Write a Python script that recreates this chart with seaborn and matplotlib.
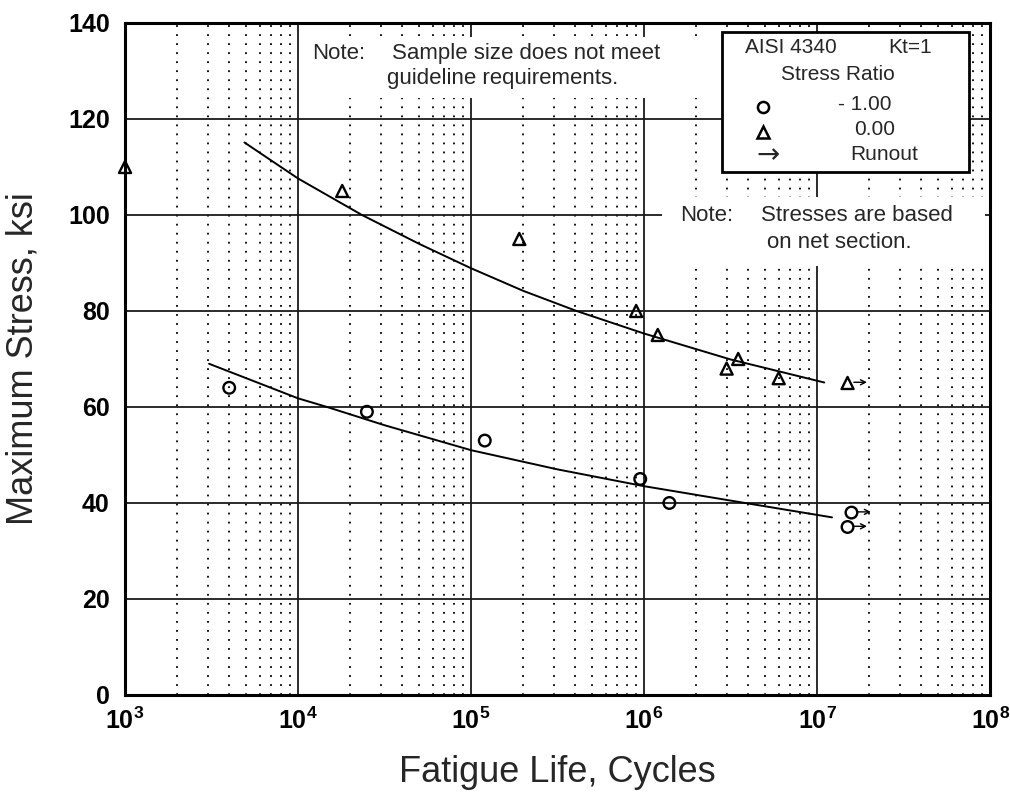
import matplotlib
matplotlib.use("Agg")
import matplotlib.pyplot as plt
from matplotlib.patches import Rectangle
from matplotlib.transforms import offset_copy
import seaborn as sns
import pandas as pd

# data
circle_life = [4.0e3, 2.5e4, 1.2e5, 9.5e5, 1.4e6, 1.58e7, 1.5e7]
circle_stress = [64, 59, 53, 45, 40, 38, 35]
circle_runout = [False, False, False, False, False, True, True]

triangle_life = [1.0e3, 1.8e4, 1.9e5, 9.0e5, 1.2e6, 3.0e6, 3.5e6, 6.0e6, 1.5e7]
triangle_stress = [110, 105, 95, 80, 75, 68, 70, 66, 65]
triangle_runout = [False, False, False, False, False, False, False, False, True]

# best-fit curves
upper_fit_life = [4.9e3, 1.0e4, 2.34e4, 5.0e4, 1.0e5, 2.0e5, 4.07e5, 1.0e6, 3.16e6, 1.1e7]
upper_fit_stress = [115.1, 107.6, 100.0, 94.0, 88.9, 84.2, 80.0, 75.3, 69.9, 65.1]
lower_fit_life = [3.06e3, 1.0e4, 1.47e4, 3.16e4, 1.0e5, 3.16e5, 1.0e6, 3.16e6, 1.22e7]
lower_fit_stress = [69.0, 61.8, 60.0, 56.2, 51.0, 47.0, 43.5, 40.5, 37.0]

x_ticks = [1e3, 1e4, 1e5, 1e6, 1e7, 1e8]
x_tick_labels = [r"$\mathbf{10^{3}}$", r"$\mathbf{10^{4}}$", r"$\mathbf{10^{5}}$",
                 r"$\mathbf{10^{6}}$", r"$\mathbf{10^{7}}$", r"$\mathbf{10^{8}}$"]
y_ticks = [0, 20, 40, 60, 80, 100, 120, 140]

sns.set_style("white")
plt.rcParams["font.family"] = ["Liberation Sans", "DejaVu Sans"]
plt.rcParams["mathtext.fontset"] = "custom"
plt.rcParams["mathtext.rm"] = "Liberation Sans"
plt.rcParams["mathtext.bf"] = "Liberation Sans:bold"

circles = pd.DataFrame({"life": circle_life, "stress": circle_stress, "runout": circle_runout})
triangles = pd.DataFrame({"life": triangle_life, "stress": triangle_stress, "runout": triangle_runout})
upper = pd.DataFrame({"life": upper_fit_life, "stress": upper_fit_stress})
lower = pd.DataFrame({"life": lower_fit_life, "stress": lower_fit_stress})

fig = plt.figure(figsize=(10.1, 7.92), dpi=100)
ax = fig.add_axes([0.1238, 0.1225, 0.8565, 0.8485])
ax.set_xscale("log")
ax.set_xlim(1e3, 1e8)
ax.set_ylim(0, 140)

# grid: solid majors, dotted minor verticals
ax.set_axisbelow(True)
ax.grid(which="major", axis="both", color="#1a1a1a", linewidth=1.3, linestyle="-")
ax.grid(which="minor", axis="x", color="black", linewidth=1.3, linestyle=(0, (1, 4)))
ax.grid(which="minor", axis="y", visible=False)

sns.lineplot(data=upper, x="life", y="stress", ax=ax, color="black", linewidth=1.4,
             sort=False, estimator=None, zorder=3)
sns.lineplot(data=lower, x="life", y="stress", ax=ax, color="black", linewidth=1.4,
             sort=False, estimator=None, zorder=3)

sns.scatterplot(data=circles, x="life", y="stress", ax=ax, marker="o", s=70,
                facecolors="none", edgecolors="black", linewidth=1.7, zorder=4, clip_on=False)
sns.scatterplot(data=triangles, x="life", y="stress", ax=ax, marker="^", s=75,
                facecolors="none", edgecolors="black", linewidth=1.7, zorder=4, clip_on=False)

# runout arrows drawn just right of the marker
tail_tr = offset_copy(ax.transData, fig=fig, x=4.5, y=0.5, units="points")
head_tr = offset_copy(ax.transData, fig=fig, x=14, y=0.5, units="points")
for df in (circles, triangles):
    for n, s in zip(df.loc[df.runout, "life"], df.loc[df.runout, "stress"]):
        ax.annotate("", xy=(n, s), xycoords=head_tr, xytext=(n, s), textcoords=tail_tr,
                    arrowprops=dict(arrowstyle="->", lw=1.0, color="black",
                                    shrinkA=0, shrinkB=0, mutation_scale=9), zorder=5)

for sp in ax.spines.values():
    sp.set_linewidth(2.2)
    sp.set_color("black")

ax.set_xticks(x_ticks)
ax.set_xticklabels(x_tick_labels)
ax.set_yticks(y_ticks)
ax.set_yticklabels([str(v) for v in y_ticks], fontweight="bold")
ax.tick_params(axis="both", which="both", length=0, labelsize=18, colors="black")
ax.tick_params(axis="x", pad=9)
ax.tick_params(axis="y", pad=11)

ax.set_xlabel("Fatigue Life, Cycles", fontsize=26)
ax.set_ylabel("Maximum Stress, ksi", fontsize=26)
ax.xaxis.set_label_coords(0.5, -0.09)
ax.yaxis.set_label_coords(-0.098, 0.5)

# note boxes (white backgrounds that hide the grid)
ax.add_patch(Rectangle((0.204, 0.888), 0.467, 0.091, transform=ax.transAxes,
                       facecolor="white", edgecolor="none", zorder=2))
ax.text(0.216, 0.954, "Note:", transform=ax.transAxes, fontsize=16, va="center", ha="left", zorder=6)
ax.text(0.309, 0.954, "Sample size does not meet", transform=ax.transAxes, fontsize=16,
        va="center", ha="left", zorder=6)
ax.text(0.303, 0.918, "guideline requirements.", transform=ax.transAxes, fontsize=16,
        va="center", ha="left", zorder=6)

ax.add_patch(Rectangle((0.621, 0.638), 0.373, 0.103, transform=ax.transAxes,
                       facecolor="white", edgecolor="none", zorder=2))
ax.text(0.642, 0.714, "Note:", transform=ax.transAxes, fontsize=16, va="center", ha="left", zorder=6)
ax.text(0.735, 0.714, "Stresses are based", transform=ax.transAxes, fontsize=16,
        va="center", ha="left", zorder=6)
ax.text(0.742, 0.674, "on net section.", transform=ax.transAxes, fontsize=16,
        va="center", ha="left", zorder=6)

# legend box
ax.add_patch(Rectangle((0.690, 0.778), 0.286, 0.209, transform=ax.transAxes,
                       facecolor="white", edgecolor="black", linewidth=2, zorder=6))
ax.text(0.770, 0.964, "AISI 4340", transform=ax.transAxes, fontsize=15, ha="center", va="center", zorder=7)
ax.text(0.908, 0.964, "Kt=1", transform=ax.transAxes, fontsize=15, ha="center", va="center", zorder=7)
ax.text(0.824, 0.923, "Stress Ratio", transform=ax.transAxes, fontsize=15, ha="center", va="center", zorder=7)
ax.plot([0.738], [0.875], transform=ax.transAxes, marker="o", markersize=8, markerfacecolor="none",
        markeredgecolor="black", markeredgewidth=1.8, zorder=7, clip_on=False)
ax.text(0.855, 0.879, "- 1.00", transform=ax.transAxes, fontsize=15, ha="center", va="center", zorder=7)
ax.plot([0.738], [0.838], transform=ax.transAxes, marker="^", markersize=8, markerfacecolor="none",
        markeredgecolor="black", markeredgewidth=1.8, zorder=7, clip_on=False)
ax.text(0.867, 0.841, "0.00", transform=ax.transAxes, fontsize=15, ha="center", va="center", zorder=7)
ax.text(0.743, 0.804, "→", transform=ax.transAxes, fontsize=20, ha="center", va="center",
        family="DejaVu Sans", zorder=7)
ax.text(0.877, 0.804, "Runout", transform=ax.transAxes, fontsize=15, ha="center", va="center", zorder=7)

fig.savefig("out.png", dpi=100)
